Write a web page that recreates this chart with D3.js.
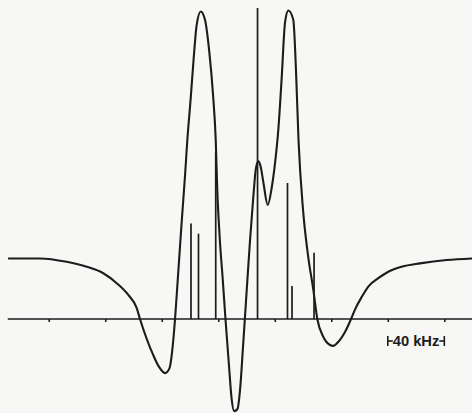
<!DOCTYPE html>
<html>
<head>
<meta charset="utf-8">
<script src="https://cdn.jsdelivr.net/npm/d3@7"></script>
<style>
  html, body { margin: 0; padding: 0; background: #f7f7f5; }
  svg { display: block; }
</style>
</head>
<body>
<svg id="chart" width="472" height="413"></svg>
<script>
// spectrum trace, frequency offset in kHz and amplitude (arb. units, peak ~100)
const traceKHz = [-168.8, -146.2, -127.3, -113.1, -101.4, -91.9, -83.7, -77.7, -75.4,
  -66.0, -61.9, -57.7, -54.5, -52.7, -50.6, -48.7, -45.8, -43.5, -41.9,
  -39.6, -37.5, -35.3, -32.4, -29.4, -26.5, -23.7, -21.8, -20.7, -19.1,
  -16.8, -14.9, -12.4, -10.6, -8.8, -6.4, -4.6, -2.5, -1.1, 0.6,
  2.5, 4.8, 6.7, 8.4, 9.9, 11.9, 15.0, 17.8, 20.2, 22.5,
  24.8, 27.3, 29.6, 33.1, 35.0, 36.8, 40.0, 43.5, 47.3, 50.1,
  54.4, 59.1, 61.2, 64.1, 69.7, 74.0, 76.6, 81.6, 86.2, 93.3,
  100.4, 109.9, 122.8, 141.7, 159.6];
const traceAmp = [19.6, 19.6, 18.5, 16.9, 14.8, 11.6, 7.8, 3.5, 0,
  -11.7, -15.5, -17.5, -15.9, -10.7, 0, 12.6, 32.0, 46.6, 57.9,
  70.9, 83.8, 95.1, 99.5, 96.8, 87.1, 72.5, 57.9, 41.7, 27.2,
  12.6, 0, -15.2, -25.6, -29.8, -29.1, -23.0, -9.1, 0.6, 12.6,
  25.6, 39.5, 48.9, 51.0, 49.5, 44.3, 36.9, 42.4, 50.5, 61.2,
  77.3, 96.1, 99.8, 96.8, 80.6, 57.9, 35.3, 20.7, 9.4, 0,
  -5.8, -8.4, -8.7, -7.8, -4.2, 0, 2.9, 7.2, 10.5, 13.2,
  15.3, 16.9, 18.0, 19.1, 19.6];

// stick spectrum (line positions and intensities)
const stickKHz = [-39.3, -34.0, -21.8, 7.8, 29.0, 32.2, 47.8];
const stickAmp = [30.9, 27.6, 54.0, 100.6, 44.0, 10.7, 21.4];

// axis ticks every 40 kHz
const tickKHz = [-140, -100, -60, -20, 20, 60, 100, 140];
const axisStartKHz = -169;
const scaleBarKHz = [100, 140];
const scaleLabel = "40 kHz";

const svg = d3.select('#chart');
const ink = '#1c1c1c';

const x = d3.scaleLinear().domain([-174.5, 159.6]).range([0, 472]);
const y = d3.scaleLinear().domain([-30.4, 103.2]).range([413, 0]);

// baseline
svg.append('line')
  .attr('x1', x(axisStartKHz)).attr('x2', x(159.6))
  .attr('y1', y(0)).attr('y2', y(0))
  .attr('stroke', ink).attr('stroke-width', 1.5);

// ticks hanging below the baseline
const axis = svg.append('g')
  .attr('transform', `translate(0,${y(0)})`)
  .call(d3.axisBottom(x).tickValues(tickKHz).tickSize(3).tickSizeOuter(0).tickFormat(''));
axis.select('.domain').remove();
axis.selectAll('.tick line').attr('stroke', ink).attr('stroke-width', 1.6);

// sticks
svg.append('g').selectAll('line')
  .data(stickKHz)
  .join('line')
  .attr('x1', d => x(d)).attr('x2', d => x(d))
  .attr('y1', y(0)).attr('y2', (d, i) => y(stickAmp[i]))
  .attr('stroke', ink).attr('stroke-width', 1.7);

// trace
const pts = traceKHz.map((d, i) => [d, traceAmp[i]]);
svg.append('path')
  .datum(pts)
  .attr('fill', 'none')
  .attr('stroke', ink)
  .attr('stroke-width', 2.1)
  .attr('stroke-linejoin', 'round')
  .attr('d', d3.line().x(d => x(d[0])).y(d => y(d[1])).curve(d3.curveMonotoneX));

// scale bar "|-40 kHz-|"
const sbY = y(0) + 22;
const sb = svg.append('g').attr('stroke', ink).attr('stroke-width', 1.6);
sb.append('line').attr('x1', x(scaleBarKHz[0])).attr('x2', x(scaleBarKHz[0]))
  .attr('y1', sbY - 5).attr('y2', sbY + 5);
sb.append('line').attr('x1', x(scaleBarKHz[0])).attr('x2', x(scaleBarKHz[0]) + 5)
  .attr('y1', sbY).attr('y2', sbY);
sb.append('line').attr('x1', x(scaleBarKHz[1])).attr('x2', x(scaleBarKHz[1]))
  .attr('y1', sbY - 5).attr('y2', sbY + 5);
sb.append('line').attr('x1', x(scaleBarKHz[1]) - 5).attr('x2', x(scaleBarKHz[1]))
  .attr('y1', sbY).attr('y2', sbY);

svg.append('text')
  .attr('x', x(scaleBarKHz[0]) + 5).attr('y', sbY + 5)
  .attr('textLength', x(scaleBarKHz[1]) - x(scaleBarKHz[0]) - 10)
  .attr('lengthAdjust', 'spacingAndGlyphs')
  .attr('font-family', 'Liberation Sans Narrow, Liberation Sans, sans-serif')
  .attr('font-size', 14)
  .attr('font-weight', 'bold')
  .attr('fill', ink)
  .text(scaleLabel);
</script>
</body>
</html>
